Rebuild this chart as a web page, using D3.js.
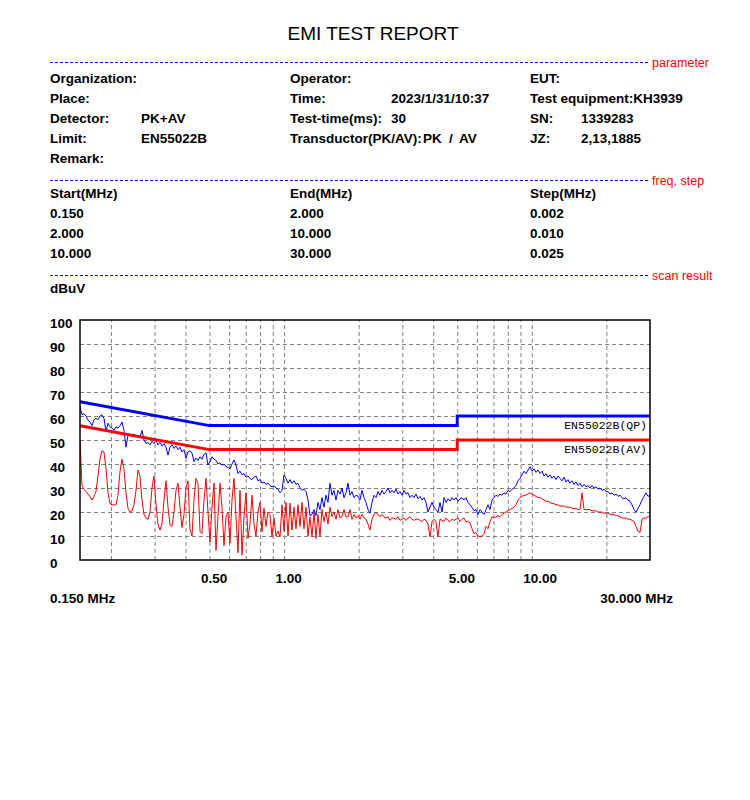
<!DOCTYPE html>
<html><head><meta charset="utf-8">
<script src="https://cdn.jsdelivr.net/npm/d3@7"></script>
<style>body{margin:0;background:#fff;} svg{display:block;}</style>
</head><body>
<svg id="c" width="750" height="800"></svg>
<script>
// ---------- data ----------
const freqs = [
0.1500,0.1528,0.1557,0.1586,0.1616, 0.1646,0.1677,0.1708,0.1740,0.1773,
0.1806,0.1840,0.1875,0.1910,0.1946, 0.1982,0.2020,0.2058,0.2096,0.2135,
0.2176,0.2216,0.2258,0.2300,0.2343, 0.2387,0.2432,0.2478,0.2524,0.2572,
0.2620,0.2669,0.2719,0.2770,0.2822, 0.2875,0.2929,0.2984,0.3040,0.3097,
0.3155,0.3215,0.3275,0.3336,0.3399, 0.3463,0.3528,0.3594,0.3661,0.3730,
0.3800,0.3871,0.3944,0.4018,0.4093, 0.4170,0.4248,0.4328,0.4409,0.4492,
0.4576,0.4662,0.4750,0.4839,0.4929, 0.5022,0.5116,0.5212,0.5310,0.5409,
0.5511,0.5615,0.5720,0.5827,0.5936, 0.6048,0.6162,0.6277,0.6395,0.6515,
0.6637,0.6762,0.6889,0.7018,0.7149, 0.7284,0.7421,0.7560,0.7702,0.7846,
0.7994,0.8144,0.8296,0.8452,0.8610, 0.8772,0.8937,0.9104,0.9275,0.9449,
0.9627,0.9807,0.9991,1.018,1.037, 1.057,1.076,1.097,1.117,1.138,
1.159,1.181,1.203,1.226,1.249, 1.272,1.296,1.321,1.345,1.370,
1.396,1.422,1.449,1.476,1.504, 1.532,1.561,1.590,1.620,1.650,
1.682,1.713,1.745,1.778,1.811, 1.845,1.880,1.915,1.951,1.988,
2.025,2.063,2.102,2.141,2.181, 2.222,2.264,2.307,2.350,2.394,
2.439,2.485,2.531,2.579,2.627, 2.676,2.727,2.778,2.830,2.883,
2.937,2.992,3.048,3.106,3.164, 3.223,3.284,3.345,3.408,3.472,
3.537,3.604,3.671,3.740,3.810, 3.882,3.955,4.029,4.104,4.181,
4.260,4.340,4.421,4.504,4.588, 4.675,4.763,4.852,4.943,5.035,
5.130,5.227,5.325,5.424,5.526, 5.630,5.736,5.843,5.953,6.064,
6.179,6.294,6.413,6.533,6.655, 6.780,6.908,7.037,7.169,7.303,
7.441,7.581,7.723,7.867,8.015, 8.166,8.319,8.475,8.634,8.795,
8.961,9.129,9.300,9.475,9.652, 9.834,10.02,10.21,10.40,10.59,
10.79,11.00,11.20,11.41,11.62, 11.84,12.07,12.29,12.52,12.76,
13.00,13.24,13.49,13.74,14.00, 14.26,14.53,14.80,15.08,15.36,
15.65,15.95,16.25,16.55,16.86, 17.18,17.50,17.83,18.16,18.50,
18.85,19.20,19.56,19.93,20.30, 20.69,21.08,21.47,21.87,22.28,
22.70,23.13,23.56,24.00,24.45, 24.91,25.38,25.86,26.34,26.83,
27.34,27.85,28.38,28.91,29.45, 30.00
];
const qpValues = [
64,60.5,61,60,58.3, 57.5,56,58.5,59,58.5,
60,60.5,59,53.5,57, 55.5,55,54,55.5,55,
56,57.5,54,47,52, 52.5,51.5,52.5,51.5,52,
51,54,50,48.5,49, 48,49.5,48.5,50,48,
49,47.5,48.5,47,43.7, 47,48,46.5,47.5,46,
47,45,46,42.5,45, 45.5,44.5,41,42.5,41.5,
43,42,44,44.6,39.6, 41,43,42,41.5,40,
40.5,39.5,40,39,38.5, 38,40,41.7,39.5,36,
37,35.5,36,34.5,35, 34,33.5,34.5,35,33,
33.5,32,32.5,31.5,32, 31,30.5,31,30,29.5,
28,29,35.4,34,32, 33.5,32,33,31.5,32,
30,29,29.5,28.5,25, 18.5,19,21,18.5,24,
21,26,22,27,24, 32,27,29,25,29,
27.5,30,26,28,32, 27,28.5,26,27,26.5,
25,29,26,24,21, 19.5,24,27,26,28.5,
27,29,27.5,28.5,30, 28,29,28,29.5,27.5,
28.5,27,29,27.5,28, 26,27,26,27.5,25.5,
26.5,25,26,24,20, 22,24,22,21,20,
24,20,26,24,25.5, 24.5,26,25,26,24.5,
25.5,26,25,26,24, 23,22,20.5,21,19,
21,20,19,21,23, 21,25,26,27,26.5,
27.5,27,28,27.5,29, 28.5,29.5,30,31,33,
34,35.5,37,36,37.5, 38.9,37,38,36.5,37.5,
36,37,35,36,34.5, 35.5,34,35,33.5,35,
34,33,34.5,32.5,33.5, 32,33,31.5,32.5,31,
32,30.5,31.5,30.5,31, 30,31,30,30.5,29.5,
30,29,29.5,28.5,28.5, 27.5,28,27,27.5,26.5,
27,26,25.5,26,25, 24.5,23,21,20,21.5,
23,25,26.5,28,26.5, 27
];
const avValues = [
50,31,29.5,28.5,27.5, 26.5,25,26.5,28.5,35,
42,45.5,45,38,28, 23.5,23,23,23,27,
37,42,38,28,21.5, 20,20.5,23,29,37.5,
35,25,19,17.5,17, 20,30,35,23,15,
12.5,15,25,33,22, 14.6,14,20,29,32,
22,13.5,19,30,33, 13,10,25,34,32,
12,11,25,34,20, 7.5,22,32,4,18,
32,22,6,18,20, 7,25,34,18,3,
29,2,18,28,9, 15,27,15,10,20,
24,11.7,21.6,14,20, 18.8,9.7,17.5,10,12,
9.7,23,12,24,10, 23.7,12.5,22,13,23,
14,24,13,22,10, 18,9.7,20,9,19,
10,21,16,20,15, 22,18,20,17,21,
17.5,18,21,18,18, 21,17,19,17.5,18.5,
17,19,17.5,17,15, 12.5,17,19,20,19,
18,19,18,17.5,18, 16.5,17.5,17.5,17,18,
16.5,17,17.5,16.5,17.5, 18,17,16.5,17,17,
16.5,16,17,16.5,15, 9.7,16,17,16,9.7,
17,16.5,16,17.5,16.5, 16,17,16.5,17,17.5,
16,17,17.5,16,16, 15.5,13,11,11.5,10,
9.7,10,11,14,13, 16,18,17.5,18,18.5,
18,19,19.5,20,20.5, 21,21.5,22,23,25,
26,26.5,27,27,27.5, 28,27.5,27,26.5,26,
26,25.5,25,24.5,24.5, 24,23.5,23.5,23,23,
22.5,22.5,22.5,22,22, 22,21.5,21.5,21.5,21,
21,28,21,21,21, 21,20.5,20.5,20.5,20,
20,20,19.5,19.5,19.5, 19,19,19,18.5,18.5,
18,17.5,17.5,17.5,17, 17,16.5,16,14,12,
11.5,17,17.5,17.5,18, 18
];
const limitFreqs = [0.15, 0.5, 5, 5, 30];
const qpLimit = [66, 56, 56, 60, 60];
const avLimit = [56, 46, 46, 50, 50];
const yTicks = [0,10,20,30,40,50,60,70,80,90,100];
const gridFreqs = [0.2,0.3,0.4,0.5,0.6,0.7,0.8,0.9,1,2,3,4,5,6,7,8,9,10,20];
const xLabelFreqs = [0.5, 1, 5, 10];
const xLabelTexts = ["0.50", "1.00", "5.00", "10.00"];

const paramRows = [
  [["Organization:",50],["Operator:",290],["EUT:",530]],
  [["Place:",50],["Time:",290],["2023/1/31/10:37",391],["Test equipment:KH3939",530]],
  [["Detector:",50],["PK+AV",141],["Test-time(ms):",290],["30",391],["SN:",530],["1339283",581]],
  [["Limit:",50],["EN55022B",141],["Transductor(PK/AV):",290],["PK",423],["/",449],["AV",459],["JZ:",530],["2,13,1885",581]],
  [["Remark:",50]]
];
const freqHeader = ["Start(MHz)","End(MHz)","Step(MHz)"];
const freqStart = ["0.150","2.000","10.000"];
const freqEnd = ["2.000","10.000","30.000"];
const freqStep = ["0.002","0.010","0.025"];

// ---------- drawing ----------
const svg = d3.select("#c");
const FONT = "'Liberation Sans', Arial, sans-serif";
const L = 80, R = 650, T = 320, B = 560;
const x = d3.scaleLog().domain([0.15, 30]).range([L, R]);
const y = d3.scaleLinear().domain([0, 100]).range([B, T]);

svg.append("text").attr("x", 373).attr("y", 40).attr("text-anchor", "middle")
  .attr("font-family", FONT).attr("font-size", 19).text("EMI TEST REPORT");

function sep(yy, label) {
  svg.append("line").attr("x1", 50).attr("x2", 648).attr("y1", yy + 0.5).attr("y2", yy + 0.5)
    .attr("stroke", "#0000ff").attr("stroke-width", 1).attr("stroke-dasharray", "3,2");
  svg.append("text").attr("x", 652).attr("y", yy + 5).attr("fill", "#ff0000")
    .attr("font-family", FONT).attr("font-size", 12.5).text(label);
}
sep(62, "parameter");
sep(180, "freq, step");
sep(275, "scan result");

function txt(s, xx, yy) {
  svg.append("text").attr("x", xx).attr("y", yy).attr("font-family", FONT)
    .attr("font-size", 13.5).attr("font-weight", "bold").attr("fill", "#000").text(s);
}
paramRows.forEach((row, i) => row.forEach(([s, xx]) => txt(s, xx, 83 + i * 20)));
freqHeader.forEach((s, i) => txt(s, [50, 290, 530][i], 198));
[freqStart, freqEnd, freqStep].forEach((col, j) =>
  col.forEach((s, i) => txt(s, [50, 290, 530][j], 218 + i * 20)));
txt("dBuV", 50, 293);

// grid
const gx = svg.append("g").attr("transform", `translate(0,${B})`)
  .call(d3.axisBottom(x).tickValues(gridFreqs).tickSize(-(B - T)).tickFormat(""));
gx.select(".domain").remove();
gx.selectAll("line").attr("stroke", "#808080").attr("stroke-dasharray", "4,3");
const gy = svg.append("g").attr("transform", `translate(${L},0)`)
  .call(d3.axisLeft(y).tickValues(yTicks.filter(v => v > 0 && v < 100)).tickSize(-(R - L)).tickFormat(""));
gy.select(".domain").remove();
gy.selectAll("line").attr("stroke", "#808080").attr("stroke-dasharray", "4,3");

// y labels
const ya = svg.append("g").attr("transform", `translate(${L},0)`)
  .call(d3.axisLeft(y).tickValues(yTicks).tickSize(0).tickFormat(d3.format("d")));
ya.select(".domain").remove();
ya.selectAll("text").attr("x", -30).attr("dy", 7).attr("text-anchor", "start")
  .attr("font-family", FONT).attr("font-size", 13.5).attr("font-weight", "bold").attr("fill", "#000");

// x labels
const xa = svg.append("g").attr("transform", `translate(0,${B})`)
  .call(d3.axisBottom(x).tickValues(xLabelFreqs).tickSize(0).tickFormat((d, i) => xLabelTexts[i]));
xa.select(".domain").remove();
xa.selectAll("text").attr("y", 23).attr("dy", 0).attr("dx", -9).attr("text-anchor", "start")
  .attr("font-family", FONT).attr("font-size", 13.5).attr("font-weight", "bold").attr("fill", "#000");
txt("0.150 MHz", 50, 603);
svg.append("text").attr("x", 673).attr("y", 603).attr("text-anchor", "end").attr("font-family", FONT)
  .attr("font-size", 13.5).attr("font-weight", "bold").text("30.000 MHz");

// traces
const line = d3.line().x(d => x(d[0])).y(d => y(d[1]));
svg.append("clipPath").attr("id", "pc").append("rect")
  .attr("x", L).attr("y", T).attr("width", R - L).attr("height", B - T);
const plot = svg.append("g").attr("clip-path", "url(#pc)");
plot.append("path").datum(freqs.map((f, i) => [f, avValues[i]])).attr("d", line)
  .attr("fill", "none").attr("stroke", "#ff0000").attr("stroke-width", 1);
plot.append("path").datum(freqs.map((f, i) => [f, qpValues[i]])).attr("d", line)
  .attr("fill", "none").attr("stroke", "#0000ff").attr("stroke-width", 1);
plot.append("path").datum(limitFreqs.map((f, i) => [f, avLimit[i]])).attr("d", line)
  .attr("fill", "none").attr("stroke", "#ff0000").attr("stroke-width", 3);
plot.append("path").datum(limitFreqs.map((f, i) => [f, qpLimit[i]])).attr("d", line)
  .attr("fill", "none").attr("stroke", "#0000ff").attr("stroke-width", 3);

svg.append("text").attr("x", 647).attr("y", 429).attr("text-anchor", "end")
  .attr("font-family", "'Liberation Mono', monospace").attr("font-size", 11.5).text("EN55022B(QP)");
svg.append("text").attr("x", 647).attr("y", 453).attr("text-anchor", "end")
  .attr("font-family", "'Liberation Mono', monospace").attr("font-size", 11.5).text("EN55022B(AV)");

// frame
svg.append("rect").attr("x", L).attr("y", T).attr("width", R - L).attr("height", B - T)
  .attr("fill", "none").attr("stroke", "#000").attr("stroke-width", 1.5);
</script>
</body></html>
